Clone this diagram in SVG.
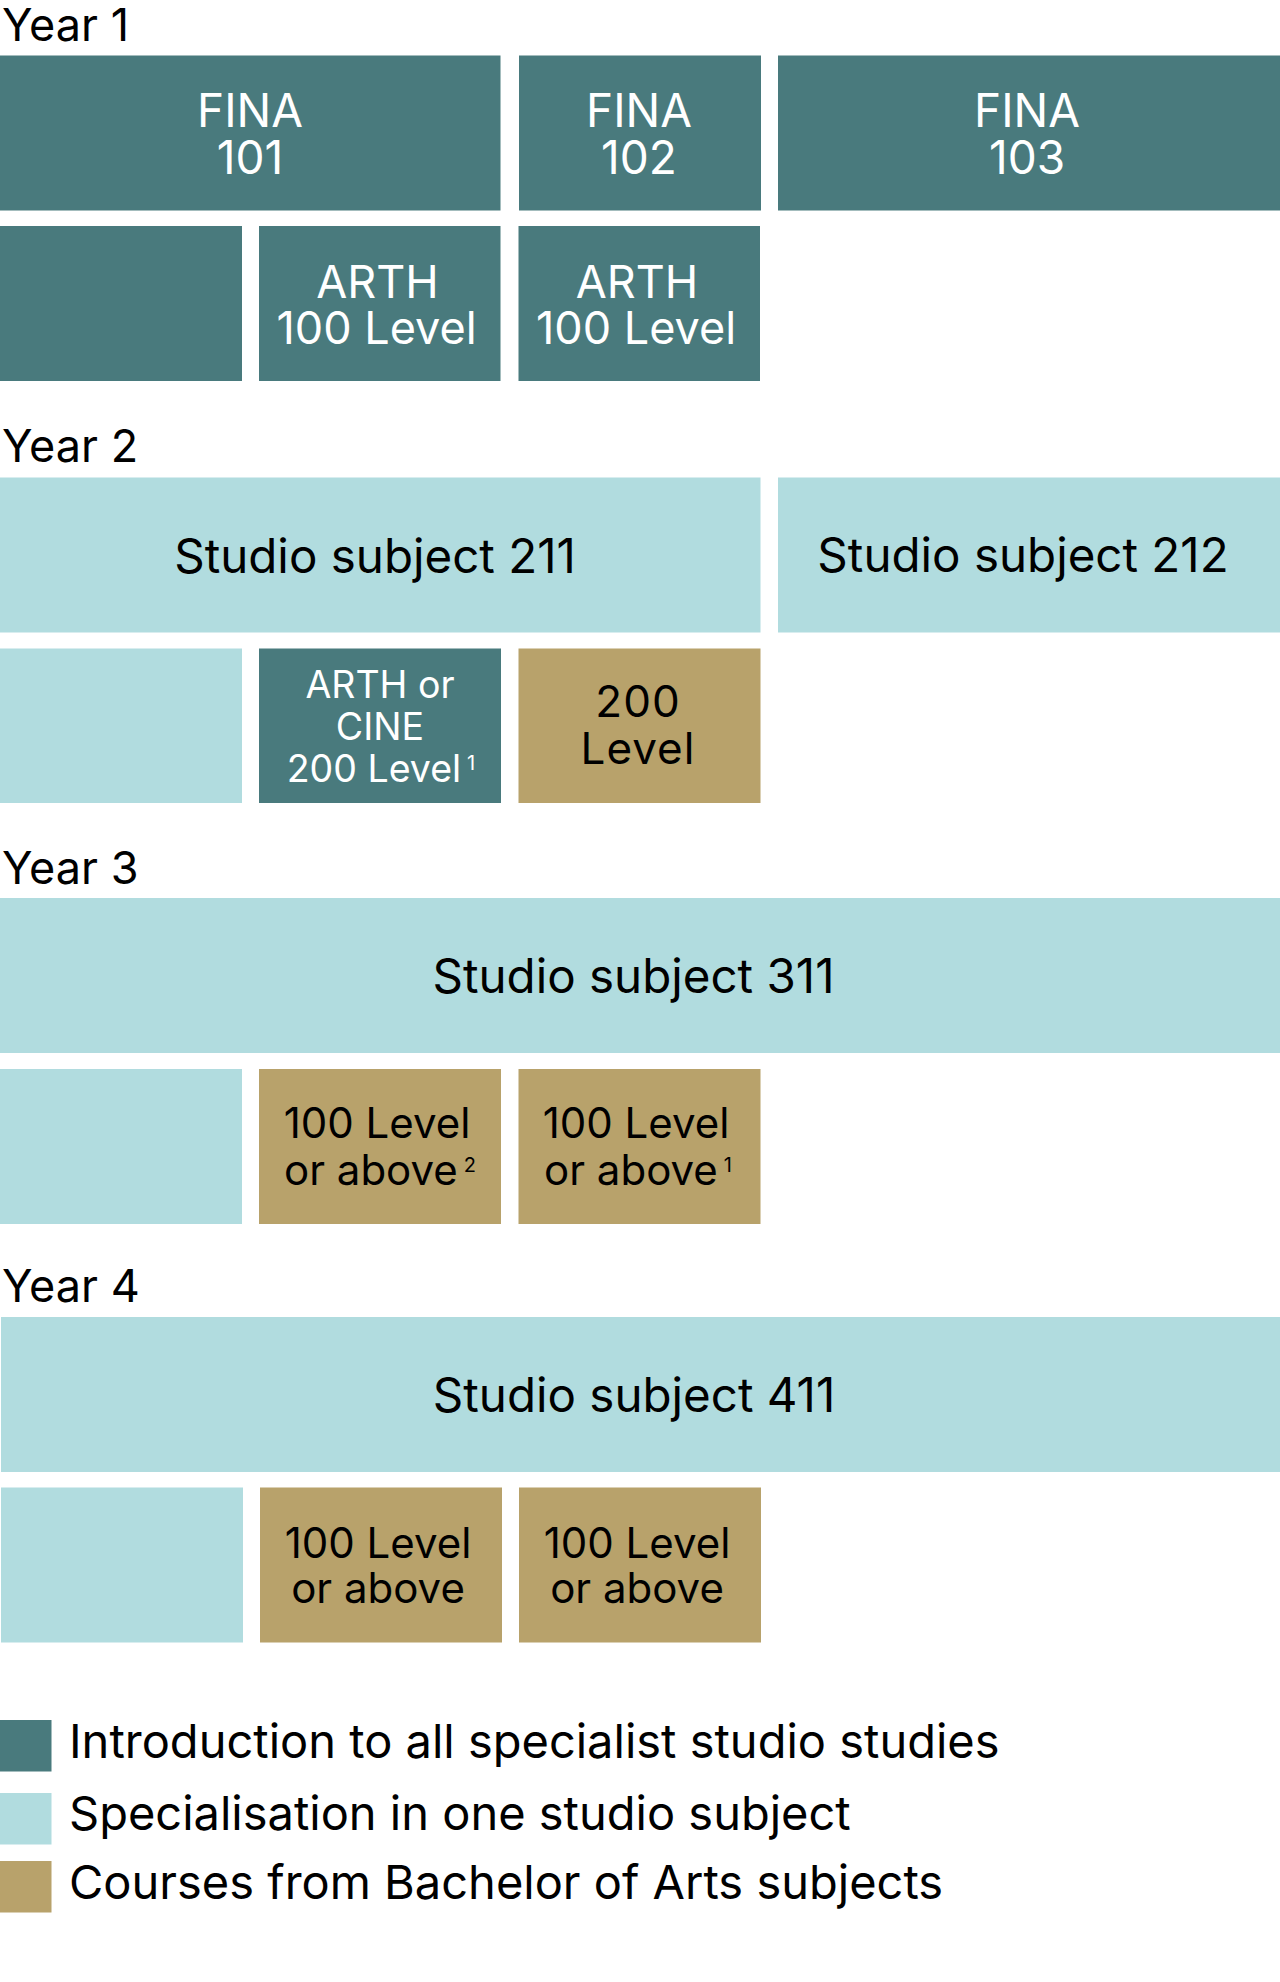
<svg xmlns="http://www.w3.org/2000/svg" width="1280" height="1982" viewBox="0 0 1280 1982">
<style>
.intro{fill:#497A7D}
.spec{fill:#B1DCDF}
.ba{fill:#B8A26B}
text{font-family:Inter,"Noto Sans","Liberation Sans",sans-serif}
.yr{font-size:45px;fill:#000}
.w{fill:#fff;text-anchor:middle}
.k{fill:#000;text-anchor:middle}
.f46{font-size:46px}
.f45{font-size:45px}
.st{font-size:47.5px}
.f37{font-size:37.5px}
.gl{font-size:44px;letter-spacing:1px}
.f42{font-size:42px}
.sup{font-size:20px;letter-spacing:0}
.leg{font-size:47px;fill:#000}
</style>
<rect width="1280" height="1982" fill="#fff"/>

<g id="year1">
<text class="yr" x="2" y="41">Year 1</text>
<g id="fina101"><rect class="intro" x="0" y="55.5" width="500.5" height="155"/><text class="w f46" x="250" y="127">FINA</text><text class="w f46" x="250" y="173.5">101</text></g>
<g id="fina102"><rect class="intro" x="519" y="55.5" width="242" height="155"/><text class="w f46" x="639" y="127">FINA</text><text class="w f46" x="639" y="173.5">102</text></g>
<g id="fina103"><rect class="intro" x="778" y="55.5" width="502" height="155"/><text class="w f46" x="1027" y="127">FINA</text><text class="w f46" x="1027" y="173.5">103</text></g>
<g id="y1-blank"><rect class="intro" x="0" y="226" width="242" height="155"/></g>
<g id="arth1a"><rect class="intro" x="259" y="226" width="241.5" height="155"/><text class="w f45" x="377.5" y="297.5">ARTH</text><text class="w f45" x="376.5" y="343.5">100 Level</text></g>
<g id="arth1b"><rect class="intro" x="518.5" y="226" width="241.5" height="155"/><text class="w f45" x="637" y="297.5">ARTH</text><text class="w f45" x="636" y="343.5">100 Level</text></g>
</g>

<g id="year2">
<text class="yr" x="2" y="461.5">Year 2</text>
<g id="studio211"><rect class="spec" x="0" y="477.5" width="760.5" height="155"/><text class="k st" x="375" y="572.5">Studio subject 211</text></g>
<g id="studio212"><rect class="spec" x="778" y="477.5" width="502" height="155"/><text class="k st" x="1023" y="572">Studio subject 212</text></g>
<g id="y2-blank"><rect class="spec" x="0" y="648.5" width="242" height="154.5"/></g>
<g id="arthcine"><rect class="intro" x="259" y="648.5" width="242" height="154.5"/><text class="w f37" x="380" y="698">ARTH or</text><text class="w f37" x="380" y="739.5">CINE</text><text class="w f37" x="381" y="781.5">200 Level<tspan class="sup" dx="6" dy="-12">1</tspan></text></g>
<g id="y2-200"><rect class="ba" x="518.5" y="648.5" width="242" height="154.5"/><text class="k gl" x="638" y="717">200</text><text class="k gl" x="638" y="764">Level</text></g>
</g>

<g id="year3">
<text class="yr" x="2" y="883.5">Year 3</text>
<g id="studio311"><rect class="spec" x="0" y="898" width="1280" height="155"/><text class="k st" x="633.5" y="993">Studio subject 311</text></g>
<g id="y3-blank"><rect class="spec" x="0" y="1069" width="242" height="155"/></g>
<g id="y3-100a"><rect class="ba" x="259" y="1069" width="242" height="155"/><text class="k f42" x="377" y="1138">100 Level</text><text class="k f42" x="380" y="1184.5">or above<tspan class="sup" dx="6" dy="-12.5">2</tspan></text></g>
<g id="y3-100b"><rect class="ba" x="518.5" y="1069" width="242" height="155"/><text class="k f42" x="636" y="1138">100 Level</text><text class="k f42" x="638" y="1184.5">or above<tspan class="sup" dx="6" dy="-12.5">1</tspan></text></g>
</g>

<g id="year4">
<text class="yr" x="2" y="1302">Year 4</text>
<g id="studio411"><rect class="spec" x="1" y="1317" width="1279" height="155"/><text class="k st" x="634" y="1412">Studio subject 411</text></g>
<g id="y4-blank"><rect class="spec" x="1" y="1487.5" width="242" height="155"/></g>
<g id="y4-100a"><rect class="ba" x="260" y="1487.5" width="242" height="155"/><text class="k f42" x="378" y="1558">100 Level</text><text class="k f42" x="378" y="1602.5">or above</text></g>
<g id="y4-100b"><rect class="ba" x="519" y="1487.5" width="242" height="155"/><text class="k f42" x="637" y="1558">100 Level</text><text class="k f42" x="637" y="1602.5">or above</text></g>
</g>

<g id="legend">
<rect class="intro" x="0" y="1720" width="51.5" height="51.5"/>
<text class="leg" x="69" y="1757.5">Introduction to all specialist studio studies</text>
<rect class="spec" x="0" y="1793" width="51.5" height="51.5"/>
<text class="leg" x="69" y="1830">Specialisation in one studio subject</text>
<rect class="ba" x="0" y="1861" width="51.5" height="51.5"/>
<text class="leg" x="69" y="1898.5">Courses from Bachelor of Arts subjects</text>
</g>
<g id="connectors"/>
</svg>
